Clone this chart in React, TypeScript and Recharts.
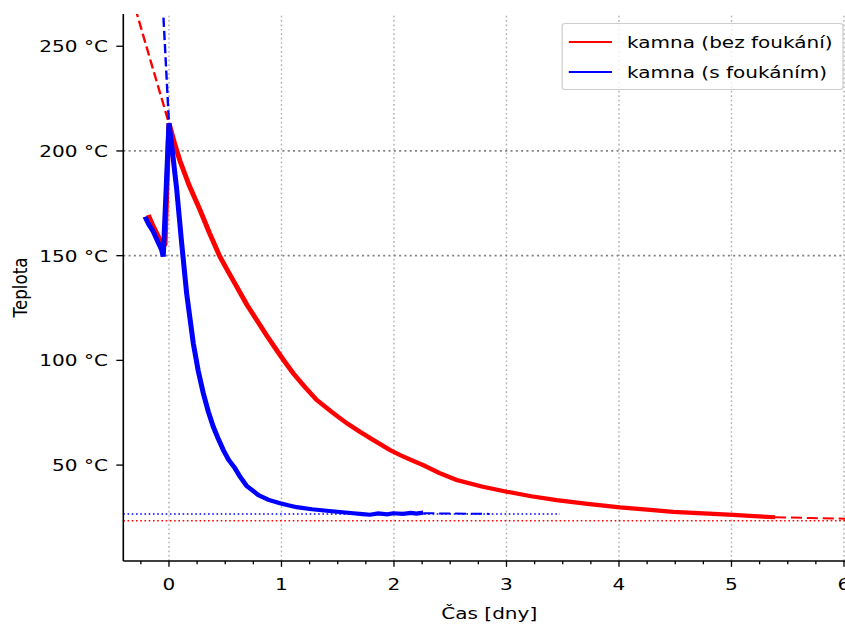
import { ComposedChart, Line, XAxis, YAxis, ReferenceLine } from 'recharts'

// measured temperatures, [days, °C]
const redMeasured: [number, number][] = [
    [-0.184, 169.4], [-0.15, 165.2], [-0.11, 160.8], [-0.08, 157.5], [-0.051, 154.3],
    [-0.035, 155.5], [0.0, 213.2], [0.05, 203.5], [0.098, 195.2], [0.18, 183.5],
    [0.276, 171.8], [0.36, 160.8], [0.453, 149.5], [0.53, 142], [0.602, 135.2],
    [0.69, 126.8], [0.78, 119.3], [0.87, 111.8], [0.957, 104.9], [1.03, 99.3],
    [1.105, 93.8], [1.21, 87.2], [1.313, 81.1], [1.45, 75.2], [1.58, 70.0],
    [1.7, 65.8], [1.816, 62.0], [1.964, 57.2], [2.053, 54.8], [2.16, 52.3],
    [2.26, 50.0], [2.4, 46.3], [2.557, 42.9], [2.78, 39.8], [3.002, 37.3],
    [3.22, 35.1], [3.446, 33.3], [3.72, 31.5], [4.009, 29.8], [4.25, 28.7],
    [4.483, 27.7], [4.75, 26.9], [5.016, 26.2], [5.2, 25.6], [5.387, 25.1]
]

const blueMeasured: [number, number][] = [
    [-0.213, 168.6], [-0.18, 165.0], [-0.14, 161.5], [-0.1, 156.8], [-0.065, 152.7],
    [-0.051, 149.5], [0.0, 213.2], [0.03, 200], [0.068, 182], [0.113, 155.9],
    [0.157, 132.0], [0.216, 108.2], [0.26, 95], [0.305, 84.3], [0.35, 75.5],
    [0.394, 68.3], [0.44, 62.3], [0.483, 57.2], [0.53, 52.5], [0.587, 48.5],
    [0.631, 44.5], [0.691, 40.0], [0.794, 35.7], [0.88, 33.5], [0.987, 31.8],
    [1.06, 30.8], [1.135, 29.9], [1.27, 28.9], [1.402, 28.2], [1.52, 27.6],
    [1.638, 27.0], [1.72, 26.6], [1.787, 26.3], [1.86, 26.9], [1.94, 26.5],
    [1.994, 27.0], [2.08, 26.7], [2.15, 27.2], [2.2, 26.8], [2.26, 27.3]
]

// fitted curves, extended (dashed)
const redFitBack: [number, number][] = [[-0.3, 268.3], [-0.15, 240.6], [0.0, 213.2]]
const redFitFwd: [number, number][] = [[5.387, 25.1], [5.7, 24.7], [6.1, 24.3]]
const blueFitBack: [number, number][] = [[-0.055, 270], [0.0, 213.2]]
const blueFitFwd: [number, number][] = [[2.26, 27.0], [2.85, 26.7]]

// asymptotes (dotted)
const redAsym: [number, number][] = [[-0.406, 23.4], [6.1, 23.4]]
const blueAsym: [number, number][] = [[-0.406, 26.6], [3.476, 26.6]]

const xDomain = [-0.406, 6.1]
const yDomain = [4.2, 265.4]
const xTicks = [
    -0.25, 0, 0.25, 0.5, 0.75, 1, 1.25, 1.5, 1.75, 2, 2.25, 2.5, 2.75, 3,
    3.25, 3.5, 3.75, 4, 4.25, 4.5, 4.75, 5, 5.25, 5.5, 5.75, 6
]
const xGrid = [0, 1, 2, 3, 4, 5, 6]
const yTicks = [50, 100, 150, 200, 250]
const yRefLines = [150, 200]

const series = [
    { name: 'kamna (bez foukání)', color: '#ff0000' },
    { name: 'kamna (s foukáním)', color: '#0000ff' }
]

const toRows = (pts: [number, number][]) => pts.map(([t, T]) => ({ t, T }))

const FONT = 'DejaVu Sans'
const FS = 16.7
// the reference is stretched horizontally, so draw narrower and scale X
const SX = 1.2
const W = 760
const H = 625
const PLOT_RIGHT = 712.7

const XTick = (props: any) => {
    const { x, y, payload } = props
    const v = payload.value
    const major = Number.isInteger(v)
    return (
        <g>
            <line x1={x} x2={x} y1={y} y2={y + (major ? 5.8 : 3.3)} stroke="#000" strokeWidth={1.1} />
            {major && (
                <text x={x} y={y + 29.5} textAnchor="middle" fontSize={FS} fontFamily={FONT} fill="#000">
                    {v}
                </text>
            )}
        </g>
    )
}

const XLabel = (props: any) => {
    const { viewBox } = props
    return (
        <text
            x={viewBox.x + viewBox.width / 2}
            y={619}
            textAnchor="middle"
            fontSize={FS}
            fontFamily={FONT}
            fill="#000"
        >
            Čas [dny]
        </text>
    )
}

const YLabel = (props: any) => {
    const { viewBox } = props
    const cx = viewBox.x + 16.25
    const cy = viewBox.y + viewBox.height / 2
    return (
        <text
            x={cx}
            y={cy}
            transform={`rotate(-90 ${cx} ${cy})`}
            textAnchor="middle"
            dominantBaseline="central"
            fontSize={FS}
            fontFamily={FONT}
            fill="#000"
        >
            Teplota
        </text>
    )
}

export default function App() {
    const lineBase = {
        type: 'linear' as const,
        dataKey: 'T',
        dot: false,
        activeDot: false,
        isAnimationActive: false,
        legendType: 'none' as const
    }

    return (
        <div style={{ position: 'absolute', left: 0, top: 0, width: 845, height: 625, overflow: 'hidden', background: '#fff' }}>
            <div style={{ position: 'relative', width: W, height: H, transform: `scaleX(${SX})`, transformOrigin: '0 0', fontFamily: FONT }}>
                <ComposedChart width={W} height={H} margin={{ top: 14, right: W - PLOT_RIGHT, bottom: 0, left: 0 }}>
                    <XAxis
                        type="number"
                        dataKey="t"
                        domain={xDomain}
                        ticks={xTicks}
                        interval={0}
                        allowDataOverflow
                        height={64}
                        tickSize={0}
                        tickMargin={0}
                        tickLine={false}
                        tick={(p: any) => <XTick {...p} />}
                        axisLine={{ stroke: '#000', strokeWidth: 1.33 }}
                        label={<XLabel />}
                    />
                    <XAxis
                        xAxisId="top"
                        orientation="top"
                        type="number"
                        domain={xDomain}
                        height={0}
                        tick={false}
                        tickLine={false}
                        axisLine={{ stroke: '#000', strokeWidth: 1.33 }}
                    />
                    <YAxis
                        type="number"
                        domain={yDomain}
                        ticks={yTicks}
                        interval={0}
                        allowDataOverflow
                        width={102.75}
                        tickSize={5.8}
                        tickMargin={7}
                        tickFormatter={(v: number) => `${v} °C`}
                        tick={{ fill: '#000', fontSize: FS, fontFamily: FONT }}
                        tickLine={{ stroke: '#000', strokeWidth: 1.33 }}
                        axisLine={{ stroke: '#000', strokeWidth: 1.33 }}
                        label={<YLabel />}
                    />

                    {xGrid.map((v) => (
                        <ReferenceLine key={`gx${v}`} x={v} stroke="#b0b0b0" strokeWidth={1.2} strokeDasharray="1.67 2.75" />
                    ))}
                    {yRefLines.map((v) => (
                        <ReferenceLine key={`gy${v}`} y={v} stroke="#808080" strokeWidth={1.67} strokeDasharray="1.67 2.75" />
                    ))}

                    <Line {...lineBase} data={toRows(redAsym)} stroke="#ff0000" strokeWidth={1.5} strokeDasharray="1.33 2.2" />
                    <Line {...lineBase} data={toRows(blueAsym)} stroke="#0000ff" strokeWidth={1.5} strokeDasharray="1.33 2.2" />

                    <Line {...lineBase} data={toRows(redMeasured)} stroke="#ff0000" strokeWidth={4.2} />
                    <Line {...lineBase} data={toRows(redFitBack)} stroke="#ff0000" strokeWidth={2} strokeDasharray="9.25 4" />
                    <Line {...lineBase} data={toRows(redFitFwd)} stroke="#ff0000" strokeWidth={2} strokeDasharray="9.25 4" />

                    <Line {...lineBase} data={toRows(blueMeasured)} stroke="#0000ff" strokeWidth={4.2} />
                    <Line {...lineBase} data={toRows(blueFitBack)} stroke="#0000ff" strokeWidth={2} strokeDasharray="9.25 4" />
                    <Line {...lineBase} data={toRows(blueFitFwd)} stroke="#0000ff" strokeWidth={2} strokeDasharray="9.25 4" />
                </ComposedChart>

                {/* legend, upper right */}
                <div
                    style={{
                        position: 'absolute',
                        left: 467.5,
                        top: 23,
                        width: 235,
                        height: 67,
                        boxSizing: 'border-box',
                        border: '1px solid #cccccc',
                        borderRadius: 3,
                        background: 'rgba(255,255,255,0.8)'
                    }}
                >
                    {series.map((s, i) => (
                        <div key={s.name}>
                            <div
                                style={{
                                    position: 'absolute',
                                    left: 5,
                                    top: 16.5 + i * 30,
                                    width: 36.7,
                                    height: 2.5,
                                    background: s.color
                                }}
                            />
                            <span
                                style={{
                                    position: 'absolute',
                                    left: 54,
                                    top: 7.5 + i * 30,
                                    lineHeight: '20px',
                                    fontSize: FS,
                                    fontFamily: FONT,
                                    color: '#000',
                                    whiteSpace: 'nowrap'
                                }}
                            >
                                {s.name}
                            </span>
                        </div>
                    ))}
                </div>
            </div>
        </div>
    )
}
